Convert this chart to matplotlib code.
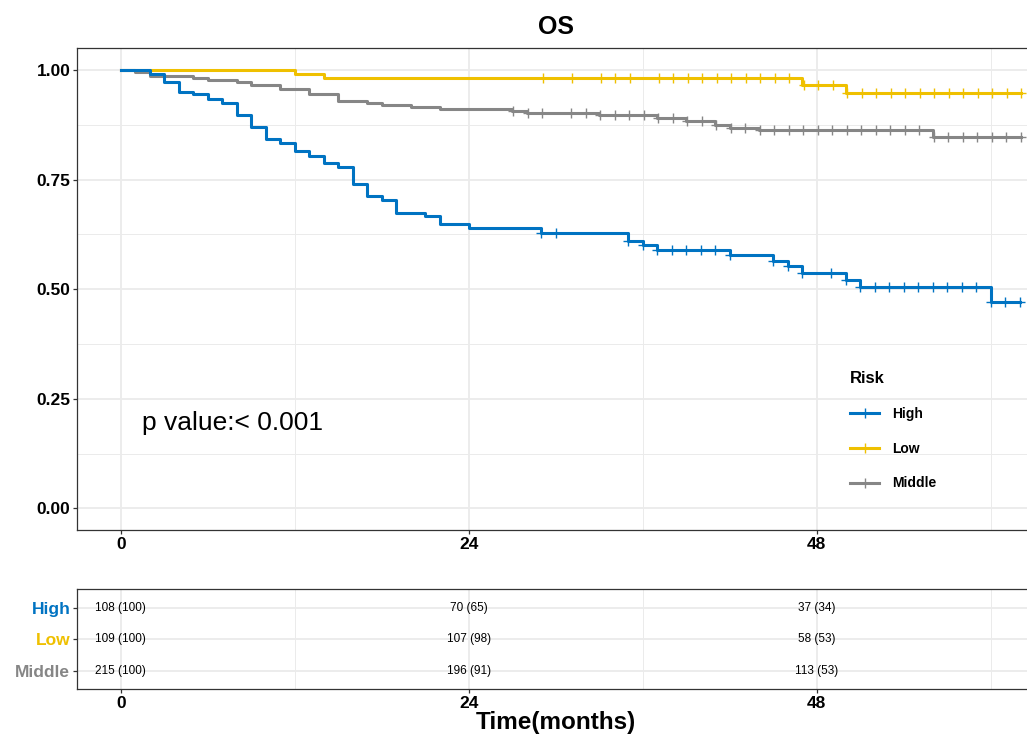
import numpy as np
import matplotlib
matplotlib.use("Agg")
import matplotlib.pyplot as plt
from matplotlib.lines import Line2D

plt.rcParams['font.family'] = ['Liberation Sans', 'DejaVu Sans']

# --- data ---
groups = ['High', 'Low', 'Middle']
colors = {'High': '#0073C2', 'Low': '#EFC000', 'Middle': '#868686'}

high_times = [0, 2, 3, 4, 5, 6, 7, 8, 9, 10, 11, 12, 13, 14, 15, 16, 17, 18, 19,
              21, 22, 24, 29, 35, 36, 37, 42, 45, 46, 47, 50, 51, 60]
high_surv = [1.0, 0.991, 0.973, 0.951, 0.945, 0.935, 0.926, 0.898, 0.870, 0.842,
             0.833, 0.816, 0.804, 0.788, 0.780, 0.740, 0.713, 0.704, 0.675,
             0.667, 0.650, 0.639, 0.629, 0.609, 0.601, 0.590, 0.579, 0.565,
             0.552, 0.538, 0.522, 0.505, 0.471]
high_censor = [29, 30, 35, 36, 37, 38, 39, 40, 41, 42, 45, 46, 47, 49, 50, 51, 52,
               53, 54, 55, 56, 57, 58, 59, 60, 61, 62]

low_times = [0, 12, 14, 47, 50]
low_surv = [1.0, 0.991, 0.982, 0.966, 0.947]
low_censor = [29.1, 31.1, 33.1, 34.1, 35.1, 37.1, 38.1, 39.1, 40.1, 41.1, 42.1, 43.1,
              44.1, 45.1, 46.1, 47.1, 48.1, 49.1, 50.1, 51.1, 52.1, 53.1, 54.1,
              55.1, 56.1, 57.1, 58.1, 59.1, 60.1, 61.1, 62.1]

mid_times = [0, 1, 2, 5, 6, 8, 9, 11, 13, 15, 17, 18, 20, 22, 27, 28, 33, 37, 39,
             41, 42, 44, 56]
mid_surv = [1.0, 0.995, 0.986, 0.982, 0.977, 0.973, 0.967, 0.958, 0.945, 0.930,
            0.924, 0.920, 0.915, 0.911, 0.907, 0.903, 0.898, 0.891, 0.885,
            0.874, 0.868, 0.863, 0.847]
mid_censor = [27.05, 28.05, 29.05, 31.05, 32.05, 33.05, 34.05, 35.05, 36.05, 37.05,
              38.05, 39.05, 40.05, 41.05, 42.05, 43.05, 44.05, 45.05, 46.05,
              47.05, 48.05, 49.05, 50.05, 51.05, 52.05, 53.05, 54.05, 55.05,
              56.05, 57.05, 58.05, 59.05, 60.05, 61.05, 62.05]

risk_times = [0, 24, 48]
high_n = [108, 70, 37]
high_pct = [100, 65, 34]
low_n = [109, 107, 58]
low_pct = [100, 98, 53]
mid_n = [215, 196, 113]
mid_pct = [100, 91, 53]

curves = {
    'High': (high_times, high_surv, high_censor),
    'Low': (low_times, low_surv, low_censor),
    'Middle': (mid_times, mid_surv, mid_censor),
}
risk = {
    'High': (high_n, high_pct),
    'Low': (low_n, low_pct),
    'Middle': (mid_n, mid_pct),
}

W, H = 1027, 737
fig = plt.figure(figsize=(W / 100, H / 100), dpi=100)


def px_axes(left, top, right, bottom):
    return fig.add_axes([left / W, 1 - bottom / H, (right - left) / W, (bottom - top) / H])


grid_major = dict(color='#EBEBEB', lw=1.3, zorder=0)
grid_minor = dict(color='#EBEBEB', lw=0.7, zorder=0)


def style_panel(ax):
    for s in ax.spines.values():
        s.set_color('#333333')
        s.set_linewidth(0.9)
    ax.tick_params(length=3, width=0.9, color='#333333', pad=2, labelsize=12.5)
    for lab in ax.get_xticklabels() + ax.get_yticklabels():
        lab.set_fontweight('bold')


# --- survival panel ---
ax = px_axes(77.3, 48.3, 1034.3, 530.2)
ax.set_xlim(-3, 63)
ax.set_ylim(-0.05, 1.05)
for x in [0, 24, 48]:
    ax.axvline(x, **grid_major)
for x in [12, 36, 60]:
    ax.axvline(x, **grid_minor)
for y in [0, 0.25, 0.5, 0.75, 1.0]:
    ax.axhline(y, **grid_major)
for y in [0.125, 0.375, 0.625, 0.875]:
    ax.axhline(y, **grid_minor)

for g in ['Middle', 'Low', 'High']:
    t, s, c = curves[g]
    t_end = max(c)
    ax.step(list(t) + [t_end], list(s) + [s[-1]], where='post',
            color=colors[g], lw=2.2, zorder=3)
    idx = np.searchsorted(t, c, side='right') - 1
    ax.plot(c, np.asarray(s)[idx], ls='none', marker='+', ms=7, mew=1.0,
            color=colors[g], zorder=4)

ax.set_xticks([0, 24, 48])
ax.set_yticks([0, 0.25, 0.5, 0.75, 1.0])
ax.set_yticklabels(['0.00', '0.25', '0.50', '0.75', '1.00'])
style_panel(ax)

ax.text(1.45, 0.195, 'p value:< 0.001', fontsize=19, ha='left', va='center')

handles = [Line2D([], [], color=colors[g], lw=2.2, marker='+', ms=7, mew=1.0)
           for g in groups]
leg = ax.legend(handles, groups, title='Risk', loc='upper left',
                bbox_to_anchor=(843 / W, 1 - 364 / H), bbox_transform=fig.transFigure,
                frameon=False, prop={'weight': 'bold', 'size': 10},
                title_fontproperties={'weight': 'bold', 'size': 12},
                alignment='left', handlelength=2.1, handletextpad=0.95,
                labelspacing=1.5, borderpad=0)

fig.text(556 / W, 1 - 27 / H, 'OS', fontsize=18, fontweight='bold',
         ha='center', va='center')

# --- risk table ---
ax2 = px_axes(77.3, 589.3, 1034.3, 689.3)
ax2.set_xlim(-3, 63)
ax2.set_ylim(3.6, 0.4)
for x in [0, 24, 48]:
    ax2.axvline(x, **grid_major)
for x in [12, 36, 60]:
    ax2.axvline(x, **grid_minor)
for i, g in enumerate(groups):
    ax2.axhline(i + 1, **grid_major)
    n, p = risk[g]
    for t, nn, pp in zip(risk_times, n, p):
        ax2.text(t, i + 1, f'{nn} ({pp})', fontsize=8.5, ha='center', va='center', zorder=3)

ax2.set_xticks(risk_times)
ax2.set_yticks([1, 2, 3])
ax2.set_yticklabels(groups)
style_panel(ax2)
for lab, g in zip(ax2.get_yticklabels(), groups):
    lab.set_color(colors[g])
    lab.set_fontsize(12.5)

fig.text(556 / W, 1 - 722 / H, 'Time(months)', fontsize=17.5, fontweight='bold',
         ha='center', va='center')

fig.savefig('out.png', dpi=100)
